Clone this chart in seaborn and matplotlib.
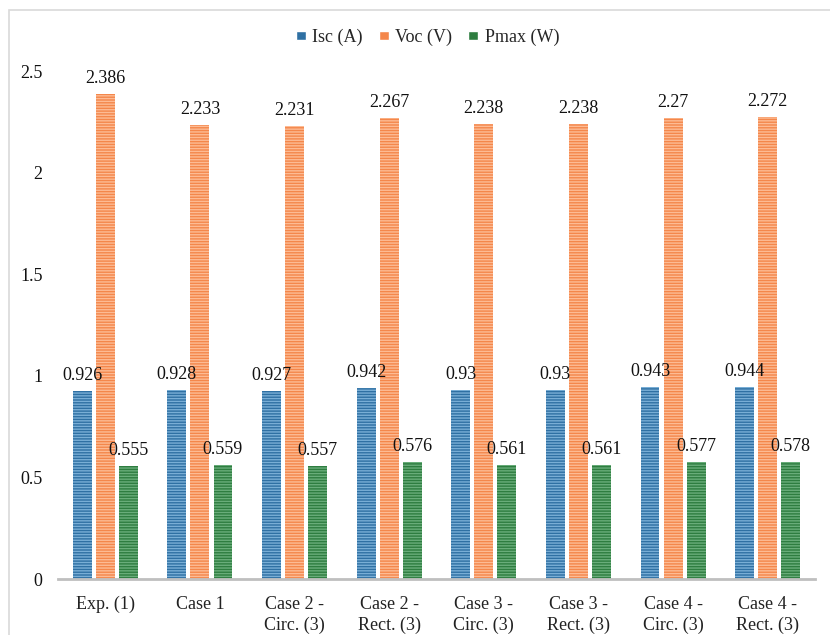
import matplotlib
matplotlib.use("Agg")
import matplotlib.pyplot as plt
from matplotlib.patches import Rectangle
import seaborn as sns
import pandas as pd

# Configurations on the x axis
cases = ["Exp. (1)", "Case 1", "Case 2 -\nCirc. (3)", "Case 2 -\nRect. (3)",
         "Case 3 -\nCirc. (3)", "Case 3 -\nRect. (3)", "Case 4 -\nCirc. (3)",
         "Case 4 -\nRect. (3)"]

# Measured quantities per configuration
isc = [0.926, 0.928, 0.927, 0.942, 0.93, 0.93, 0.943, 0.944]
voc = [2.386, 2.233, 2.231, 2.267, 2.238, 2.238, 2.27, 2.272]
pmax = [0.555, 0.559, 0.557, 0.576, 0.561, 0.561, 0.577, 0.578]

series = ["Isc (A)", "Voc (V)", "Pmax (W)"]
y_ticks = [0, 0.5, 1, 1.5, 2, 2.5]
y_tick_labels = ["0", "0.5", "1", "1.5", "2", "2.5"]

df = pd.DataFrame({
    "case": cases * 3,
    "series": [series[0]] * len(cases) + [series[1]] * len(cases) + [series[2]] * len(cases),
    "value": isc + voc + pmax,
})

sns.set_theme(style="white")
plt.rcParams["font.family"] = ["Liberation Serif", "DejaVu Serif"]
plt.rcParams["hatch.linewidth"] = 1.0

base_colors = ["#2F70A3", "#F4874B", "#2E7D40"]
stripe_colors = ["#79AED6", "#FDBB94", "#69AD7A"]

fig = plt.figure(figsize=(8.3, 6.35), dpi=100)
W, H = 830, 635
ax = fig.add_axes([58 / W, 1 - 579 / H, (815 - 58) / W, (579 - 71) / H])

sns.barplot(data=df, x="case", y="value", hue="series", order=cases,
            hue_order=series, palette=base_colors, width=0.73, gap=0.18,
            errorbar=None, ax=ax, legend=True)

for container, fc, hc in zip(ax.containers, base_colors, stripe_colors):
    for bar in container:
        bar.set_facecolor(fc)
        bar.set_edgecolor(hc)
        bar.set_hatch("------")
        bar.set_linewidth(0)
    ax.bar_label(container, fmt="{:g}", padding=5, fontsize=13, color="#111111")

ax.set_ylim(0, 2.5)
ax.set_xlim(-0.5, len(cases) - 0.5)
ax.set_yticks(y_ticks, y_tick_labels)
ax.set_xlabel("")
ax.set_ylabel("")
ax.tick_params(axis="y", length=0, pad=11, labelsize=13, labelcolor="#111111")
ax.tick_params(axis="x", length=0, pad=12, labelsize=13, labelcolor="#222222")
for lbl in ax.get_xticklabels():
    lbl.set_linespacing(1.3)

for side in ["top", "right", "left"]:
    ax.spines[side].set_visible(False)
ax.spines["bottom"].set_color("#BFBFBF")
ax.spines["bottom"].set_linewidth(2)

handles, labels = ax.get_legend_handles_labels()
for h, fc in zip(handles, base_colors):
    h.set_facecolor(fc)
    h.set_hatch("")
ax.legend(handles, labels, loc="center",
          bbox_to_anchor=(0.488, 1 + (71 - 37) / (579 - 71)),
          ncol=3, frameon=False, fontsize=13, handlelength=0.55, handleheight=0.4,
          handletextpad=0.35, columnspacing=0.9)

# Thin outer frame around the figure
fig.patches.append(Rectangle((9 / W, -0.05), 1.1, 1 - 10 / H + 0.05,
                             transform=fig.transFigure, fill=False,
                             edgecolor="#D9D9D9", linewidth=1.2))

fig.savefig("out.png", dpi=100)
